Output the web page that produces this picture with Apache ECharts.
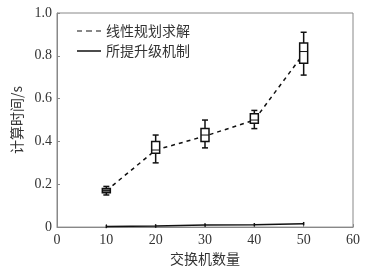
<!DOCTYPE html>
<html>
<head>
<meta charset="utf-8">
<script src="https://cdn.jsdelivr.net/npm/echarts@6/dist/echarts.min.js"></script>
<style>
  html, body { margin: 0; padding: 0; background: #fff; }
  #chart { width: 370px; height: 271px; }
</style>
</head>
<body>
<div id="chart"></div>
<script>
// 交换机数量
const switchCounts = [10, 20, 30, 40, 50];
// 线性规划求解: 均值 + 箱线 [最小, 下四分位, 中位, 上四分位, 最大]
const lpMean = [0.17, 0.36, 0.425, 0.50, 0.81];
const lpBox = [
  [0.15, 0.16, 0.17, 0.18, 0.19],
  [0.30, 0.345, 0.36, 0.40, 0.43],
  [0.37, 0.40, 0.43, 0.46, 0.50],
  [0.46, 0.485, 0.50, 0.53, 0.545],
  [0.71, 0.765, 0.82, 0.86, 0.91]
];
// 所提升级机制
const ourMean = [0.003, 0.005, 0.01, 0.011, 0.016];
const ourErr = [0.008, 0.008, 0.008, 0.008, 0.008];
const xTicks = [0, 10, 20, 30, 40, 50, 60];
const yTicks = [0, 0.2, 0.4, 0.6, 0.8, 1.0];

const chart = echarts.init(document.getElementById('chart'));

const boxData = switchCounts.map((x, i) => [x].concat(lpBox[i]));
const errData = switchCounts.map((x, i) => [x, ourMean[i] - ourErr[i], ourMean[i] + ourErr[i]]);

function renderBox(params, api) {
  const x = api.value(0);
  const lo = api.coord([x, api.value(1)]);
  const q1 = api.coord([x, api.value(2)]);
  const md = api.coord([x, api.value(3)]);
  const q3 = api.coord([x, api.value(4)]);
  const hi = api.coord([x, api.value(5)]);
  const w = 8, cap = 3;
  const cx = lo[0];
  const filled = params.dataIndex === 0;
  const st = { stroke: '#111', lineWidth: 1.5 };
  return {
    type: 'group',
    children: [
      { type: 'line', shape: { x1: cx, y1: lo[1], x2: cx, y2: hi[1] }, style: st },
      { type: 'line', shape: { x1: cx - cap, y1: lo[1], x2: cx + cap, y2: lo[1] }, style: st },
      { type: 'line', shape: { x1: cx - cap, y1: hi[1], x2: cx + cap, y2: hi[1] }, style: st },
      { type: 'rect', shape: { x: cx - w / 2, y: q3[1], width: w, height: q1[1] - q3[1] },
        style: { fill: filled ? '#777' : '#fff', stroke: '#111', lineWidth: 1.5 } },
      { type: 'line', shape: { x1: cx - w / 2, y1: md[1], x2: cx + w / 2, y2: md[1] }, style: { stroke: '#111', lineWidth: 1 } }
    ]
  };
}

function renderErr(params, api) {
  const x = api.value(0);
  const lo = api.coord([x, api.value(1)]);
  const hi = api.coord([x, api.value(2)]);
  return { type: 'line', shape: { x1: lo[0], y1: lo[1], x2: hi[0], y2: hi[1] }, style: { stroke: '#111', lineWidth: 1.5 } };
}

const axisFont = { fontFamily: 'Liberation Serif', fontSize: 14, color: '#333' };

chart.setOption({
  animation: false,
  grid: { left: 57, right: 17, top: 13, bottom: 41, show: true, borderColor: '#888', borderWidth: 1 },
  legend: {
    left: 72, top: 19, orient: 'vertical', itemGap: 6, itemWidth: 24, itemHeight: 1.5,
    textStyle: { fontFamily: 'Noto Sans CJK SC', fontSize: 14, color: '#333' },
    data: [
      { name: '线性规划求解', icon: 'path://M0,0h5v1h-5z M9,0h6v1h-6z M19,0h5v1h-5z', itemStyle: { color: '#111' } },
      { name: '所提升级机制', icon: 'rect', itemStyle: { color: '#111' } }
    ]
  },
  xAxis: {
    type: 'value', min: 0, max: 60, interval: 10,
    name: '交换机数量', nameLocation: 'middle', nameGap: 22,
    nameTextStyle: { fontFamily: 'Noto Sans CJK SC', fontSize: 14, color: '#333' },
    axisLine: { lineStyle: { color: '#888' } },
    axisTick: { inside: true, length: 3, lineStyle: { color: '#888' } },
    axisLabel: Object.assign({ margin: 6, formatter: v => xTicks.indexOf(v) >= 0 ? String(v) : '' }, axisFont),
    splitLine: { show: false }
  },
  yAxis: {
    type: 'value', min: 0, max: 1, interval: 0.2,
    name: '计算时间/s', nameLocation: 'middle', nameGap: 28,
    nameTextStyle: { fontFamily: 'Noto Sans CJK SC', fontSize: 14, color: '#333' },
    axisLine: { show: true, lineStyle: { color: '#888' } },
    axisTick: { inside: true, length: 3, lineStyle: { color: '#888' } },
    axisLabel: Object.assign({ margin: 5, formatter: v => {
      const t = yTicks.find(y => Math.abs(y - v) < 1e-6);
      return t === 0 ? '0' : t.toFixed(1);
    } }, axisFont),
    splitLine: { show: false }
  },
  series: [
    {
      name: '线性规划求解', type: 'line', symbol: 'none',
      data: switchCounts.map((x, i) => [x, lpMean[i]]),
      lineStyle: { color: '#111', width: 1.5, type: [4, 4] },
      itemStyle: { color: '#111' }, z: 2
    },
    {
      name: '所提升级机制', type: 'line', symbol: 'none',
      data: switchCounts.map((x, i) => [x, ourMean[i]]),
      lineStyle: { color: '#111', width: 1.5 },
      itemStyle: { color: '#111' }, z: 2
    },
    { type: 'custom', renderItem: renderBox, data: boxData, z: 3, encode: { x: 0, y: [1, 2, 3, 4, 5] } },
    { type: 'custom', renderItem: renderErr, data: errData, z: 3, encode: { x: 0, y: [1, 2] } }
  ]
});
</script>
</body>
</html>
